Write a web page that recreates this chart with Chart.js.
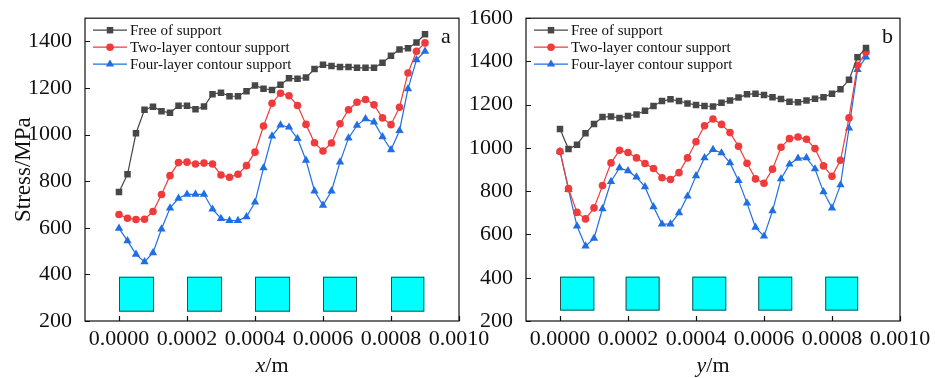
<!DOCTYPE html>
<html>
<head>
<meta charset="utf-8">
<script src="https://cdn.jsdelivr.net/npm/chart.js@4.4.1/dist/chart.umd.min.js"></script>
<style>
  html, body { margin: 0; padding: 0; background: #fff; }
  #wrap { position: relative; width: 935px; height: 378px; overflow: hidden; }
  canvas { position: absolute; top: 0; }
  #chartA { left: 0; }
  #chartB { left: 470px; }
</style>
</head>
<body>
<div id="wrap">
  <canvas id="chartA" width="500" height="378"></canvas>
  <canvas id="chartB" width="465" height="378"></canvas>
</div>
<script>
// ----- data -----
const xPos = [0, 0.000025, 0.00005, 0.000075, 0.0001, 0.000125, 0.00015, 0.000175, 0.0002,
  0.000225, 0.00025, 0.000275, 0.0003, 0.000325, 0.00035, 0.000375, 0.0004, 0.000425, 0.00045,
  0.000475, 0.0005, 0.000525, 0.00055, 0.000575, 0.0006, 0.000625, 0.00065, 0.000675, 0.0007,
  0.000725, 0.00075, 0.000775, 0.0008, 0.000825, 0.00085, 0.000875, 0.0009];

const seriesNames = ["Free of support", "Two-layer contour support", "Four-layer contour support"];

// panel a: along x
const freeA = [754, 830, 1006, 1107, 1120, 1101, 1094, 1124, 1124, 1109, 1121, 1174, 1180, 1165, 1165, 1186, 1211, 1197, 1192,
  1214, 1242, 1240, 1245, 1282, 1300, 1295, 1291, 1291, 1287, 1287, 1287, 1309, 1339, 1366, 1371, 1396, 1431];
const twoA = [657, 641, 636, 637, 670, 743, 824, 880, 882, 874, 878, 874, 827, 817, 830, 867, 925, 1037, 1135,
  1178, 1167, 1125, 1044, 965, 930, 964, 1047, 1107, 1139, 1151, 1128, 1072, 1043, 1118, 1265, 1358, 1394];
const fourA = [598, 544, 486, 454, 493, 595, 685, 727, 744, 744, 744, 680, 640, 631, 631, 647, 710, 857, 994,
  1041, 1032, 983, 890, 758, 697, 758, 882, 985, 1040, 1068, 1054, 991, 935, 1017, 1197, 1321, 1358];

// panel b: along y
const freeB = [1088, 995, 1015, 1068, 1111, 1143, 1145, 1139, 1148, 1155, 1172, 1194, 1217, 1225, 1217, 1206, 1199, 1194, 1192,
  1209, 1220, 1233, 1248, 1251, 1245, 1234, 1226, 1214, 1211, 1219, 1228, 1235, 1251, 1271, 1315, 1420, 1462];
const twoB = [984, 812, 702, 672, 723, 826, 931, 989, 979, 954, 928, 905, 862, 854, 886, 954, 1029, 1103, 1134,
  1109, 1071, 1008, 929, 857, 837, 902, 1003, 1043, 1051, 1040, 997, 917, 869, 943, 1139, 1382, 1443];
const fourB = [984, 808, 639, 546, 582, 719, 845, 908, 894, 865, 820, 728, 648, 648, 700, 777, 871, 954, 993,
  977, 931, 849, 745, 633, 592, 709, 857, 925, 952, 954, 903, 797, 722, 829, 1092, 1362, 1420];

// cyan blocks (x range and stress range, data units)
const blockStartA = [0, 0.0002, 0.0004, 0.0006, 0.0008];
const blockEndA = [0.000103, 0.000303, 0.000503, 0.0007, 0.000898];
const blockRangeA = [240, 390];
const blockStartB = [0, 0.000193, 0.000389, 0.000583, 0.00078];
const blockEndB = [0.000101, 0.000293, 0.000489, 0.000683, 0.000877];
const blockRangeB = [248, 405];

const xTicks = [0, 0.0002, 0.0004, 0.0006, 0.0008, 0.001];
const yTicksA = [200, 400, 600, 800, 1000, 1200, 1400];
const yTicksB = [200, 400, 600, 800, 1000, 1200, 1400, 1600];

// ----- styling -----
const serif = "'Liberation Serif', 'Times New Roman', serif";
const colors = ["#474747", "#ef3b3b", "#1f6fe3"];
const styles = ["rect", "circle", "triangle"];
const radii = [4.6, 3.8, 4.8];

function marker(ctx, style, x, y, r) {
  ctx.beginPath();
  if (style === "rect") {
    const s = r * Math.SQRT1_2;
    ctx.rect(x - s, y - s, 2 * s, 2 * s);
  } else if (style === "triangle") {
    for (let k = 0; k < 3; k++) {
      const a = k * 2 * Math.PI / 3;
      const px = x + Math.sin(a) * r, py = y - Math.cos(a) * r;
      if (k) ctx.lineTo(px, py); else ctx.moveTo(px, py);
    }
    ctx.closePath();
  } else {
    ctx.arc(x, y, r, 0, Math.PI * 2);
  }
  ctx.fill();
}

const panelPlugin = {
  id: "panel",
  beforeDatasetsDraw(chart, args, o) {
    const { ctx, scales: { x, y } } = chart;
    ctx.save();
    ctx.fillStyle = "#00ffff";
    ctx.strokeStyle = "#2b4f4f";
    ctx.lineWidth = 1;
    o.blockStart.forEach((s, i) => {
      const x0 = x.getPixelForValue(s), x1 = x.getPixelForValue(o.blockEnd[i]);
      const y0 = y.getPixelForValue(o.blockRange[1]), y1 = y.getPixelForValue(o.blockRange[0]);
      ctx.fillRect(x0, y0, x1 - x0, y1 - y0);
      ctx.strokeRect(x0 + 0.5, y0 + 0.5, x1 - x0 - 1, y1 - y0 - 1);
    });
    ctx.restore();
  },
  afterDraw(chart, args, o) {
    const { ctx, chartArea: a, scales: { x, y } } = chart;
    ctx.save();
    // frame + inward ticks
    ctx.strokeStyle = "#111";
    ctx.lineWidth = 1.2;
    ctx.strokeRect(a.left, a.top, a.right - a.left, a.bottom - a.top);
    ctx.beginPath();
    x.ticks.forEach(t => {
      const px = Math.round(x.getPixelForValue(t.value)) + 0.5;
      ctx.moveTo(px, a.bottom); ctx.lineTo(px, a.bottom - 5);
    });
    y.ticks.forEach(t => {
      const py = Math.round(y.getPixelForValue(t.value)) + 0.5;
      ctx.moveTo(a.left, py); ctx.lineTo(a.left + 5, py);
    });
    ctx.stroke();

    // legend
    ctx.font = "15px " + serif;
    ctx.textBaseline = "middle";
    chart.data.datasets.forEach((ds, i) => {
      const ly = a.top + 12 + i * 17;
      ctx.strokeStyle = ds.borderColor;
      ctx.lineWidth = 1.2;
      ctx.beginPath();
      ctx.moveTo(a.left + 8, ly); ctx.lineTo(a.left + 42, ly);
      ctx.stroke();
      ctx.fillStyle = ds.borderColor;
      marker(ctx, ds.pointStyle, a.left + 25, ly, ds.pointRadius);
      ctx.fillStyle = "#111";
      ctx.fillText(ds.label, a.left + 45, ly + 1);
    });

    // panel letter
    ctx.font = "22px " + serif;
    ctx.textBaseline = "alphabetic";
    ctx.fillStyle = "#111";
    ctx.fillText(o.letter, a.right - 18, a.top + 25);

    // x axis title: italic variable + "/m"
    const cx = (a.left + a.right) / 2;
    ctx.font = "italic 22px " + serif;
    const w1 = ctx.measureText(o.xVar).width;
    ctx.font = "22px " + serif;
    const w2 = ctx.measureText("/m").width;
    const sx = cx - (w1 + w2) / 2;
    ctx.font = "italic 22px " + serif;
    ctx.fillText(o.xVar, sx, 372);
    ctx.font = "22px " + serif;
    ctx.fillText("/m", sx + w1, 372);

    // y axis title
    if (o.yTitle) {
      ctx.translate(24, (a.top + a.bottom) / 2);
      ctx.rotate(-Math.PI / 2);
      ctx.font = "23px " + serif;
      ctx.textAlign = "center";
      ctx.textBaseline = "middle";
      ctx.fillText(o.yTitle, 0, 0);
    }
    ctx.restore();
  }
};

function makeChart(el, series, yMax, yTicks, axisW, padRight, panel) {
  return new Chart(el, {
    type: "line",
    data: {
      datasets: series.map((vals, i) => ({
        label: seriesNames[i],
        data: xPos.map((xv, k) => ({ x: xv, y: vals[k] })),
        borderColor: colors[i],
        backgroundColor: colors[i],
        pointBackgroundColor: colors[i],
        pointBorderWidth: 0,
        pointStyle: styles[i],
        pointRadius: radii[i],
        borderWidth: 1.2,
        tension: 0
      }))
    },
    options: {
      responsive: false,
      animation: false,
      layout: { padding: { left: 0, top: 17, right: padRight, bottom: 0 } },
      plugins: { legend: { display: false }, tooltip: { enabled: false }, panel },
      scales: {
        x: {
          type: "linear", min: -0.0001, max: 0.001,
          grid: { display: false }, border: { display: false },
          afterBuildTicks: s => { s.ticks = xTicks.map(v => ({ value: v })); },
          afterFit: s => { s.height = 57; },
          ticks: {
            callback: v => Number(v).toFixed(4),
            font: { family: serif, size: 22 }, color: "#111",
            maxRotation: 0, autoSkip: false, padding: -3
          }
        },
        y: {
          min: 200, max: yMax,
          grid: { display: false }, border: { display: false },
          afterBuildTicks: s => { s.ticks = yTicks.map(v => ({ value: v })); },
          afterFit: s => { s.width = axisW; },
          ticks: {
            callback: v => String(v),
            font: { family: serif, size: 22 }, color: "#111", padding: 5
          }
        }
      }
    },
    plugins: [panelPlugin]
  });
}

makeChart(document.getElementById("chartA"), [freeA, twoA, fourA], 1500, yTicksA, 85, 41,
  { letter: "a", xVar: "x", yTitle: "Stress/MPa", blockStart: blockStartA, blockEnd: blockEndA, blockRange: blockRangeA });
makeChart(document.getElementById("chartB"), [freeB, twoB, fourB], 1600, yTicksB, 56, 35,
  { letter: "b", xVar: "y", yTitle: "", blockStart: blockStartB, blockEnd: blockEndB, blockRange: blockRangeB });
</script>
</body>
</html>
